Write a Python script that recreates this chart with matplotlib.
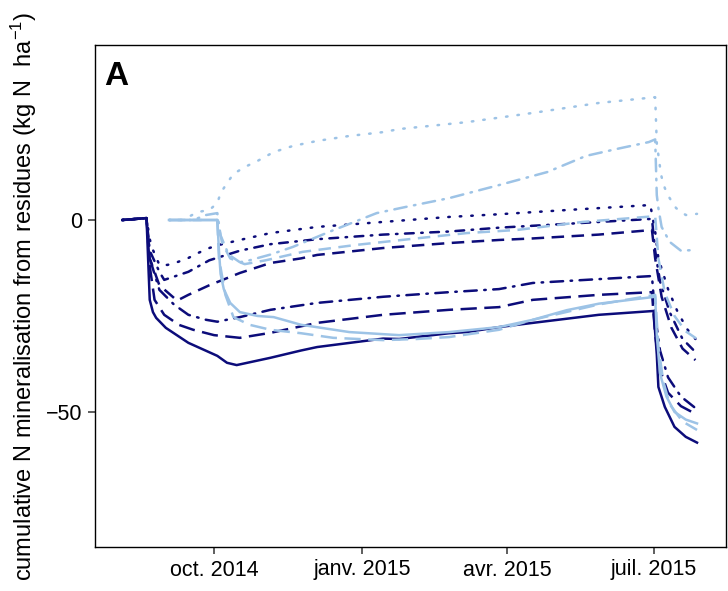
import numpy as np
import pandas as pd
import matplotlib
matplotlib.use('Agg')
import matplotlib.pyplot as plt

plt.rcParams['font.family'] = ['Liberation Sans', 'DejaVu Sans']
plt.rcParams['mathtext.fontset'] = 'custom'
plt.rcParams['mathtext.rm'] = 'Liberation Sans'
plt.rcParams['mathtext.it'] = 'Liberation Sans:italic'

dark = '#0c0c7a'
light = '#9dc3e6'

# residue type 1 (dark), starts early Aug 2014
d_solid_t = ['2014-08-05', '2014-08-20', '2014-08-22', '2014-08-24', '2014-08-26', '2014-09-01', '2014-09-15',
             '2014-10-03', '2014-10-09', '2014-10-15', '2014-11-05', '2014-11-24', '2014-12-04', '2015-01-14',
             '2015-01-24', '2015-02-24', '2015-03-07', '2015-03-27', '2015-04-17', '2015-05-28', '2015-07-01',
             '2015-07-03', '2015-07-04', '2015-07-08', '2015-07-14', '2015-07-21', '2015-07-28']
d_solid_v = [0, 0.5, -20.8, -24, -25.5, -28.1, -32, -35.4, -37.2, -37.8, -35.9, -34, -33.1, -30.9,
             -31, -29.5, -29.2, -27.9, -26.8, -24.7, -23.7, -35, -43.5, -48.7, -53.9, -56.5, -58]

d_long_t = ['2014-08-05', '2014-08-20', '2014-08-22', '2014-08-25', '2014-08-31', '2014-09-09', '2014-09-18',
            '2014-10-01', '2014-10-17', '2014-11-05', '2014-12-04', '2015-01-14', '2015-02-24', '2015-03-27',
            '2015-04-17', '2015-05-28', '2015-06-30', '2015-07-02', '2015-07-05', '2015-07-10', '2015-07-18',
            '2015-07-27']
d_long_v = [0, 0.5, -12, -20.8, -24.7, -27.3, -28.6, -30, -30.7, -29.4, -26.8, -24.7, -23.4, -22.7,
            -20.8, -19.5, -18.8, -30, -39, -45, -48.5, -50.5]

d_dotdash_t = ['2014-08-05', '2014-08-20', '2014-08-22', '2014-08-28', '2014-09-06', '2014-09-15', '2014-09-26',
               '2014-10-03', '2014-10-17', '2014-11-05', '2014-12-04', '2015-01-14', '2015-02-24', '2015-03-27',
               '2015-04-17', '2015-05-28', '2015-06-30', '2015-07-02', '2015-07-05', '2015-07-10', '2015-07-18',
               '2015-07-27']
d_dotdash_v = [0, 0.5, -10, -18.2, -22, -24.7, -26, -26.5, -25.3, -23.4, -21.6, -20, -18.8, -18,
               -16.4, -15.4, -14.6, -25, -34, -41, -46, -49]

d_dash_t = ['2014-08-05', '2014-08-20', '2014-08-22', '2014-08-28', '2014-09-08', '2014-09-15', '2014-09-28',
            '2014-10-17', '2014-11-05', '2014-11-24', '2014-12-04', '2015-01-14', '2015-02-24', '2015-03-27',
            '2015-04-17', '2015-05-28', '2015-06-30', '2015-07-02', '2015-07-06', '2015-07-12', '2015-07-19',
            '2015-07-27']
d_dash_v = [0, 0.5, -10, -17, -21, -19.5, -17, -13.8, -11.2, -10, -9.1, -7.3, -6, -5.2,
            -4.8, -3.8, -2.6, -10, -20, -28, -33.5, -36.5]

d_twodash_t = ['2014-08-05', '2014-08-20', '2014-08-22', '2014-08-28', '2014-08-31', '2014-09-15', '2014-09-28',
               '2014-10-17', '2014-11-05', '2014-12-04', '2015-01-14', '2015-02-24', '2015-03-27', '2015-05-08',
               '2015-06-30', '2015-07-02', '2015-07-05', '2015-07-11', '2015-07-19', '2015-07-27']
d_twodash_v = [0, 0.5, -8, -13.5, -15.6, -13.5, -10.5, -8, -6.3, -5, -3.8, -3, -2, -1,
               0.3, -8, -16, -24, -31, -34.4]

d_dot_t = ['2014-08-05', '2014-08-20', '2014-08-22', '2014-08-24', '2014-08-28', '2014-09-02', '2014-09-08',
           '2014-09-15', '2014-09-21', '2014-09-28', '2014-10-04', '2014-10-17', '2014-11-05', '2014-12-04',
           '2015-01-14', '2015-02-24', '2015-03-27', '2015-05-08', '2015-06-29', '2015-07-02', '2015-07-04',
           '2015-07-10', '2015-07-16', '2015-07-22', '2015-07-27']
d_dot_v = [0, 0.5, -5, -7.8, -11.7, -11.7, -11, -9.9, -8.6, -7.3, -6.5, -5.2, -3.4, -1.8,
           -0.5, 0.8, 1.5, 2.6, 3.9, -3, -10, -18, -24, -28.5, -31]

# residue type 2 (light), starts early Sep 2014
l_solid_t = ['2014-09-03', '2014-10-03', '2014-10-04', '2014-10-05', '2014-10-07', '2014-10-11', '2014-10-17',
             '2014-10-28', '2014-11-07', '2014-11-24', '2014-12-24', '2015-01-24', '2015-02-24', '2015-03-27',
             '2015-04-17', '2015-05-08', '2015-05-28', '2015-07-02', '2015-07-03', '2015-07-05', '2015-07-09',
             '2015-07-14', '2015-07-21', '2015-07-28']
l_solid_v = [0, 0, -8, -14, -18, -21.6, -24, -25, -25.3, -27.3, -29.2, -30, -29.2, -27.9,
             -26, -23.5, -21.8, -20, -30, -40, -46, -50, -52, -53]

l_long_t = ['2014-09-03', '2014-10-03', '2014-10-04', '2014-10-08', '2014-10-13', '2014-10-23', '2014-11-05',
            '2014-11-24', '2014-12-14', '2015-01-14', '2015-02-04', '2015-02-24', '2015-03-27', '2015-04-17',
            '2015-05-28', '2015-07-02', '2015-07-04', '2015-07-07', '2015-07-11', '2015-07-19', '2015-07-28']
l_long_v = [0, 0, -10, -19.5, -25.3, -27.3, -28.6, -29.5, -30.7, -31.3, -31, -30.5, -28.6, -26,
            -22, -19.5, -33, -42, -48, -52.5, -54.7]

l_dash_t = ['2014-09-03', '2014-10-03', '2014-10-06', '2014-10-11', '2014-10-20', '2014-11-02', '2014-11-25',
            '2014-12-28', '2015-01-30', '2015-03-07', '2015-04-07', '2015-05-18', '2015-07-02', '2015-07-04',
            '2015-07-08', '2015-07-14', '2015-07-21', '2015-07-28']
l_dash_v = [0, 0, -6, -10, -11.5, -10.5, -8.3, -6.5, -5, -3.4, -2.6, -0.5, 1, -10,
            -19, -25, -29, -31]

l_dotdash_t = ['2014-09-03', '2014-09-18', '2014-09-26', '2014-10-03', '2014-10-05', '2014-10-10', '2014-10-17',
               '2014-10-23', '2014-11-05', '2014-11-19', '2014-12-12', '2015-01-10', '2015-01-28', '2015-02-24',
               '2015-03-27', '2015-04-26', '2015-05-20', '2015-06-08', '2015-06-28', '2015-07-02', '2015-07-03',
               '2015-07-04', '2015-07-06', '2015-07-11', '2015-07-18', '2015-07-27']
l_dotdash_v = [0, 0, 1.3, 1.8, -4, -9, -11, -10.5, -9, -7, -3, 1.8, 3.4, 5.7,
               9.1, 12.5, 16.7, 18.5, 20.3, 21, 6.5, 3.1, -1.8, -5.7, -8, -7.8]

l_dot_t = ['2014-09-03', '2014-09-12', '2014-09-15', '2014-09-21', '2014-09-28', '2014-10-03', '2014-10-05',
           '2014-10-09', '2014-10-13', '2014-10-20', '2014-10-28', '2014-11-07', '2014-11-19', '2014-12-04',
           '2014-12-24', '2015-01-14', '2015-01-24', '2015-03-07', '2015-04-17', '2015-05-28', '2015-07-02',
           '2015-07-03', '2015-07-05', '2015-07-06', '2015-07-08', '2015-07-11', '2015-07-15', '2015-07-21',
           '2015-07-28']
l_dot_v = [0, 0, 0.8, 2.1, 2.6, 4.4, 7, 9.6, 12, 13.8, 15.4, 17.7, 19.3, 20.6,
           21.9, 22.9, 23.7, 25.5, 27.9, 30.5, 32, 20, 13.8, 11.2, 8.3, 5.7, 3.1, 1.3, 1.6]

xtick_dates = ['2014-10-01', '2015-01-01', '2015-04-01', '2015-07-01']
xtick_labels = ['oct. 2014', 'janv. 2015', 'avr. 2015', 'juil. 2015']

styles = {
    'solid': '-',
    'long': (0, (6.5, 3)),
    'dash': (0, (5, 3)),
    'dotdash': (0, (0.6, 3, 5, 3)),
    'twodash': (0, (0.6, 3, 3.5, 3)),
    'dot': (0, (0.6, 4)),
}

fig = plt.figure(figsize=(7.28, 5.91), dpi=100)
ax = fig.add_axes([95/728, 44/591, 631/728, 502/591])

dark_series = [(d_solid_t, d_solid_v, 'solid'), (d_long_t, d_long_v, 'long'),
               (d_dotdash_t, d_dotdash_v, 'dotdash'), (d_dash_t, d_dash_v, 'dash'),
               (d_twodash_t, d_twodash_v, 'twodash'), (d_dot_t, d_dot_v, 'dot')]
light_series = [(l_solid_t, l_solid_v, 'solid'), (l_long_t, l_long_v, 'long'),
                (l_dash_t, l_dash_v, 'dash'), (l_dotdash_t, l_dotdash_v, 'dotdash'),
                (l_dot_t, l_dot_v, 'dot')]

for series, col in [(dark_series, dark), (light_series, light)]:
    for t, v, ls in series:
        cap = 'round' if ls in ('dot', 'dotdash', 'twodash') else 'butt'
        ax.plot(pd.to_datetime(t), v, color=col, lw=1.8, linestyle=styles[ls],
                dash_capstyle=cap, solid_joinstyle='round')

ax.set_xlim(pd.Timestamp('2014-07-19'), pd.Timestamp('2015-08-15'))
ax.set_ylim(-85.2, 45.6)
ax.set_xticks(pd.to_datetime(xtick_dates))
ax.set_xticklabels(xtick_labels)
ax.set_yticks([0, -50])
ax.set_yticklabels(['0', '\u221250'])
ax.tick_params(direction='out', length=5, width=1.1, color='#333333', labelsize=15.5,
               labelcolor='black', pad=4)
for s in ax.spines.values():
    s.set_color('black')
    s.set_linewidth(1.0)

ax.set_ylabel('cumulative N mineralisation from residues (kg N  ha$^{-1}$)', fontsize=17, labelpad=5)
ax.text(0.014, 0.968, 'A', transform=ax.transAxes, fontsize=24, fontweight='bold', va='top', ha='left')

fig.savefig('out.png', dpi=100)
